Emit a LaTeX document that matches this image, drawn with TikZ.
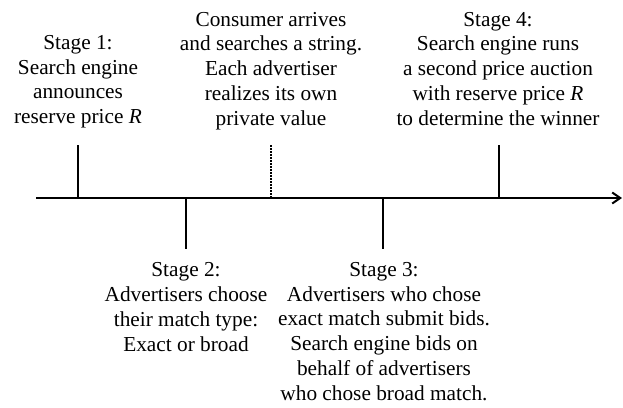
\documentclass[tikz,border=0pt]{standalone}
\usepackage{fontspec}
\setmainfont{Liberation Serif}
\usetikzlibrary{arrows.meta}
\begin{document}
\begin{tikzpicture}[x=1pt,y=-1pt,
  lbl/.style={align=center,inner sep=0pt,font=\fontsize{21.3}{24.7}\selectfont},
  tickline/.style={line width=2pt},
  dotline/.style={line width=1.5pt,dash pattern=on 1.5pt off 1.5pt},
  axisline/.style={line width=2pt,-{Straight Barb[length=8pt,width=11pt]}}]
\useasboundingbox (0,0) rectangle (623,407);
% axis
\coordinate (a0) at (36,198);
\coordinate (a1) at (622,198);
\draw[axisline] (a0) -- (a1);
% ticks
\coordinate (u1) at (78,145);  \coordinate (v1) at (78,198);
\coordinate (u2) at (186,198); \coordinate (v2) at (186,249);
\coordinate (uc) at (271,145); \coordinate (vc) at (271,198);
\coordinate (u3) at (383,198); \coordinate (v3) at (383,249);
\coordinate (u4) at (499,145); \coordinate (v4) at (499,198);
\draw[tickline] (u1) -- (v1);
\draw[tickline] (u2) -- (v2);
\draw[dotline] (uc) -- (vc);
\draw[tickline] (u3) -- (v3);
\draw[tickline] (u4) -- (v4);
% labels (anchor base = baseline of the last line)
\node[lbl,anchor=base] (s1) at (78,123.5) {Stage 1:\\Search engine\\announces\\reserve price \textit{R}};
\node[lbl,anchor=base] (sc) at (271,125) {Consumer arrives\\and searches a string.\\Each advertiser\\realizes its own\\private value};
\node[lbl,anchor=base] (s4) at (498,125) {Stage 4:\\Search engine runs\\a second price auction\\with reserve price \textit{R}\\to determine the winner};
\node[lbl,anchor=base] (s2) at (186,351) {Stage 2:\\Advertisers choose\\their match type:\\Exact or broad};
\node[lbl,anchor=base] (s3) at (384,400) {Stage 3:\\Advertisers who chose\\exact match submit bids.\\Search engine bids on\\behalf of advertisers\\who chose broad match.};
\end{tikzpicture}
\end{document}
